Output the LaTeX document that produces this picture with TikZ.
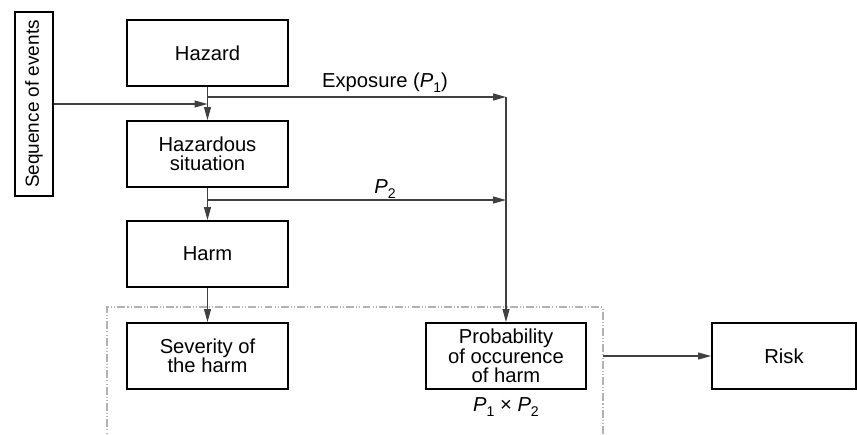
\documentclass[tikz,border=0pt]{standalone}
\usepackage{fontspec}
\setmainfont{Liberation Sans}
\usetikzlibrary{arrows.meta}
\newcommand{\probsub}[1]{\textit{P}\raisebox{-.45ex}{\footnotesize #1}}
\begin{document}
\begin{tikzpicture}[font=\fontsize{11.5}{11}\selectfont,
  box/.style={draw,line width=1.1pt,minimum width=3.22cm,minimum height=1.32cm,align=center},
  arr/.style={draw=black!75,line width=0.6pt,-{Triangle[length=2.6mm,width=1.4mm]}},
  link/.style={draw=black!75,line width=0.6pt}]
  \useasboundingbox (0,0) rectangle (17.14,-8.68);
  \node[box,rotate=90,minimum width=3.68cm,minimum height=0.76cm,inner sep=1pt,
    font=\fontsize{10.8}{11}\selectfont] (seq) at (0.68,-2.08) {Sequence of events};
  \node[box] (haz) at (4.15,-1.06) {Hazard};
  \node[box] (sit) at (4.15,-3.08) {Hazardous\\situation};
  \node[box] (harm) at (4.15,-5.08) {Harm};
  \node[box] (sev) at (4.15,-7.12) {Severity of\\the harm};
  \node[box,minimum width=3.2cm] (prob) at (10.12,-7.12) {Probability\\of occurence\\of harm};
  \node[box,minimum width=2.88cm] (risk) at (15.68,-7.12) {Risk};
  \coordinate (j1) at (4.15,-2.08);
  \coordinate (e1) at (4.15,-1.94);
  \coordinate (e2) at (10.12,-1.94);
  \coordinate (f1) at (4.15,-4.0);
  \coordinate (f2) at (10.12,-4.0);
  \coordinate (g1) at (12.06,-7.12);
  \draw[gray!60,line width=0.6pt,dash pattern=on 4.5pt off 1.2pt on 0.6pt off 1.2pt on 0.6pt off 1.2pt]
    (2.14,-9.2) -- (2.14,-6.14) -- (12.06,-6.14) -- (12.06,-9.2);
  \draw[arr] (haz) -- (sit);
  \draw[arr] (seq) -- (j1);
  \draw[arr] (e1) -- (e2);
  \draw[arr] (sit) -- (harm);
  \draw[arr] (f1) -- (f2);
  \draw[arr] (harm) -- (sev);
  \draw[arr] (e2) -- (prob);
  \draw[arr] (g1) -- (risk);
  \node (expo) at (7.7,-1.66) {Exposure (\probsub{1})};
  \node (ptwo) at (7.7,-3.78) {\probsub{2}};
  \node (prod) at (10.12,-8.14) {\probsub{1} × \probsub{2}};
\end{tikzpicture}
\end{document}
